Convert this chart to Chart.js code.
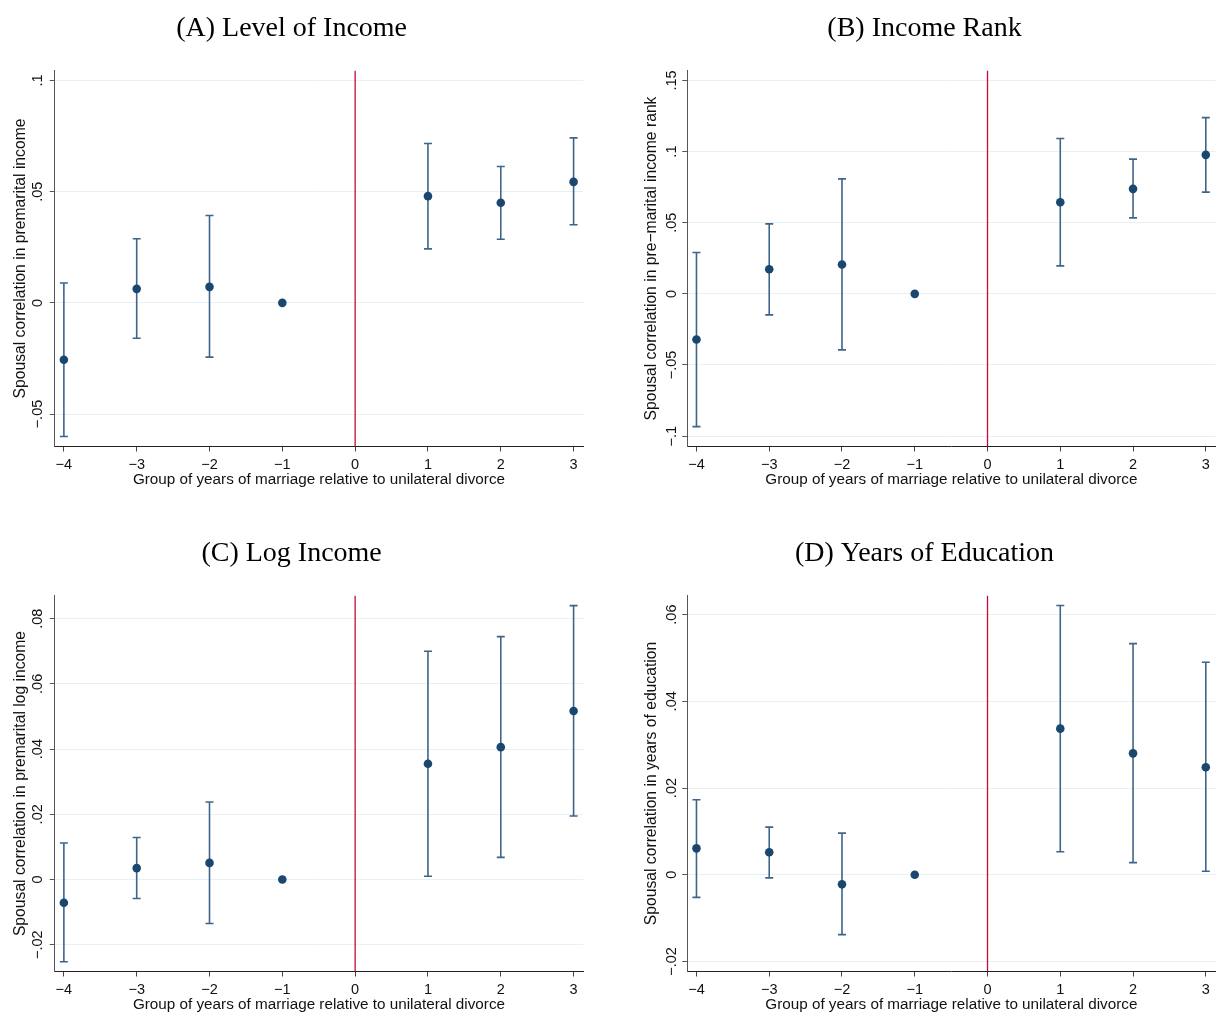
<!DOCTYPE html>
<html>
<head>
<meta charset="utf-8">
<script src="https://cdn.jsdelivr.net/npm/chart.js@4.4.1/dist/chart.umd.min.js"></script>
<style>
  html, body { margin: 0; padding: 0; background: #fff; overflow: hidden; width: 1221px; height: 1013px; }
  canvas { position: absolute; }
</style>
</head>
<body>
<canvas id="panelA" width="600" height="500" style="left:0px;top:0px"></canvas>
<canvas id="panelB" width="601" height="500" style="left:620px;top:0px"></canvas>
<canvas id="panelC" width="600" height="500" style="left:0px;top:525px"></canvas>
<canvas id="panelD" width="601" height="500" style="left:620px;top:525px"></canvas>
<script>
// Event-time groups (years of marriage relative to unilateral divorce); -1 is the omitted group
const xGroups = [-4, -3, -2, -1, 1, 2, 3];
const xTicks = [-4, -3, -2, -1, 0, 1, 2, 3];
const reformAt = 0;
const xAxisTitle = 'Group of years of marriage relative to unilateral divorce';

// (A) Level of income
const levelCoef = [-0.0256, 0.0063, 0.0072, 0, 0.0480, 0.0450, 0.0544];
const levelLo   = [-0.0601, -0.0159, -0.0244, null, 0.0243, 0.0286, 0.0351];
const levelHi   = [0.0089, 0.0288, 0.0393, null, 0.0717, 0.0613, 0.0742];
const levelTicks = [-0.05, 0, 0.05, 0.1];

// (B) Income rank
const rankCoef = [-0.0321, 0.0173, 0.0206, 0, 0.0644, 0.0738, 0.0977];
const rankLo   = [-0.0933, -0.0148, -0.0394, null, 0.0197, 0.0534, 0.0715];
const rankHi   = [0.0291, 0.0492, 0.0808, null, 0.1092, 0.0947, 0.1239];
const rankTicks = [-0.1, -0.05, 0, 0.05, 0.1, 0.15];

// (C) Log income
const logCoef = [-0.0071, 0.0035, 0.0051, 0, 0.0355, 0.0406, 0.0517];
const logLo   = [-0.0252, -0.0058, -0.0135, null, 0.0010, 0.0068, 0.0195];
const logHi   = [0.0112, 0.0129, 0.0238, null, 0.0700, 0.0745, 0.0840];
const logTicks = [-0.02, 0, 0.02, 0.04, 0.06, 0.08];

// (D) Years of education
const eduCoef = [0.0061, 0.0052, -0.0022, 0, 0.0337, 0.0280, 0.0248];
const eduLo   = [-0.0052, -0.0007, -0.0138, null, 0.0053, 0.0028, 0.0008];
const eduHi   = [0.0173, 0.0110, 0.0096, null, 0.0621, 0.0533, 0.0490];
const eduTicks = [-0.02, 0, 0.02, 0.04, 0.06];

const NAVY = '#1a476f';
const CI_COLOR = '#3e648a';
const RED = '#c40a36';
const SANS = 'Liberation Sans';

// Stata-style numbers: leading zero dropped, true minus sign
function fmt(v) {
  if (Math.abs(v) < 1e-12) return '0';
  const s = String(Math.abs(+v.toFixed(4))).replace(/^0(?=\.)/, '');
  return (v < 0 ? '\u2212' : '') + s;
}

// Vertical y tick labels (reading upwards), placed from the scale's own ticks
const yTickText = {
  id: 'yTickText',
  afterDraw(chart, args, opts) {
    const s = chart.scales.y;
    const ctx = chart.ctx;
    ctx.save();
    ctx.font = '14.5px "' + SANS + '"';
    ctx.fillStyle = '#111';
    ctx.textAlign = 'center';
    ctx.textBaseline = 'alphabetic';
    s.ticks.forEach(t => {
      const py = s.getPixelForValue(t.value);
      ctx.save();
      ctx.translate(s.right - opts.gap, py);
      ctx.rotate(-Math.PI / 2);
      ctx.fillText(t.label, 0, 0);
      ctx.restore();
    });
    ctx.restore();
  }
};

function makePanel(id, p) {
  const points = xGroups.map((x, i) => ({ x, y: p.coef[i] }));
  const ci = [];
  xGroups.forEach((x, i) => {
    if (p.lo[i] === null) return;
    ci.push({ x, y: p.lo[i] }, { x, y: p.hi[i] }, { x, y: null });
  });
  return new Chart(document.getElementById(id), {
    type: 'scatter',
    data: {
      datasets: [
        { type: 'scatter', data: points, pointRadius: 4.3, pointHoverRadius: 4.3,
          pointBackgroundColor: NAVY, pointBorderWidth: 0 },
        { type: 'line', data: ci, borderColor: CI_COLOR, borderWidth: 1.6, spanGaps: false,
          fill: false, tension: 0, pointStyle: 'line', pointRadius: 4, pointHoverRadius: 4,
          pointBorderColor: CI_COLOR, pointBorderWidth: 1.6 },
        { type: 'line', data: [{ x: reformAt, y: p.yMin }, { x: reformAt, y: p.yMax }],
          borderColor: RED, borderWidth: 1.3, pointRadius: 0, fill: false }
      ]
    },
    options: {
      responsive: false,
      animation: false,
      devicePixelRatio: 1,
      events: [],
      layout: { padding: p.pad },
      plugins: {
        legend: { display: false },
        tooltip: { enabled: false },
        title: {
          display: true, text: p.title, color: '#000',
          font: { family: 'Liberation Serif', size: 28, weight: 'normal' },
          padding: { top: 11.7, bottom: 25.2 }
        },
        yTickText: { gap: p.tickGap }
      },
      scales: {
        x: {
          type: 'linear', min: -4.126, max: 3.132,
          afterBuildTicks: s => { s.ticks = xTicks.map(v => ({ value: v })); },
          afterFit: s => { s.height = 53.5; },
          ticks: { callback: v => fmt(v), font: { family: SANS, size: 14.5 }, color: '#111',
                   padding: 5, maxRotation: 0, autoSkip: false },
          grid: { drawOnChartArea: false, drawTicks: true, tickLength: 5, tickColor: '#444', tickWidth: 1 },
          border: { display: true, color: '#222', width: 1 },
          title: { display: true, text: xAxisTitle, color: '#111',
                   font: { family: SANS, size: 15.25 }, padding: { top: 0, bottom: 10.8 } }
        },
        y: {
          type: 'linear', min: p.yMin, max: p.yMax,
          afterBuildTicks: s => { s.ticks = p.ticks.map(v => ({ value: v })); },
          afterFit: s => { s.width = p.yWidth; },
          ticks: { display: false, callback: v => fmt(v) },
          grid: { color: '#e8f0f1', lineWidth: 1, drawTicks: true, tickLength: 5, tickColor: '#555', tickWidth: 1 },
          border: { display: true, color: '#555', width: 1 },
          title: { display: true, text: p.yTitle, color: '#111',
                   font: { family: SANS, size: 15.7 }, padding: { top: p.yTitlePad, bottom: 0 } }
        }
      }
    },
    plugins: [yTickText]
  });
}

const leftPad = { left: 0, right: 16.8, top: 0, bottom: 0 };
const rightPad = { left: 13.2, right: 5.2, top: 0, bottom: 0 };

makePanel('panelA', {
  title: '(A) Level of Income', yTitle: 'Spousal correlation in premarital income',
  coef: levelCoef, lo: levelLo, hi: levelHi, ticks: levelTicks,
  yMin: -0.0646, yMax: 0.1045, pad: leftPad, yWidth: 54.7, yTitlePad: 11.2, tickGap: 13
});
makePanel('panelB', {
  title: '(B) Income Rank', yTitle: 'Spousal correlation in pre\u2212marital income rank',
  coef: rankCoef, lo: rankLo, hi: rankHi, ticks: rankTicks,
  yMin: -0.1073, yMax: 0.157, pad: rightPad, yWidth: 54.1, yTitlePad: 9.4, tickGap: 11.5
});
makePanel('panelC', {
  title: '(C) Log Income', yTitle: 'Spousal correlation in premarital log income',
  coef: logCoef, lo: logLo, hi: logHi, ticks: logTicks,
  yMin: -0.0282, yMax: 0.0871, pad: leftPad, yWidth: 54.7, yTitlePad: 11.2, tickGap: 13
});
makePanel('panelD', {
  title: '(D) Years of Education', yTitle: 'Spousal correlation in years of education',
  coef: eduCoef, lo: eduLo, hi: eduHi, ticks: eduTicks,
  yMin: -0.0223, yMax: 0.0644, pad: rightPad, yWidth: 54.1, yTitlePad: 9.4, tickGap: 11.5
});
</script>
</body>
</html>
